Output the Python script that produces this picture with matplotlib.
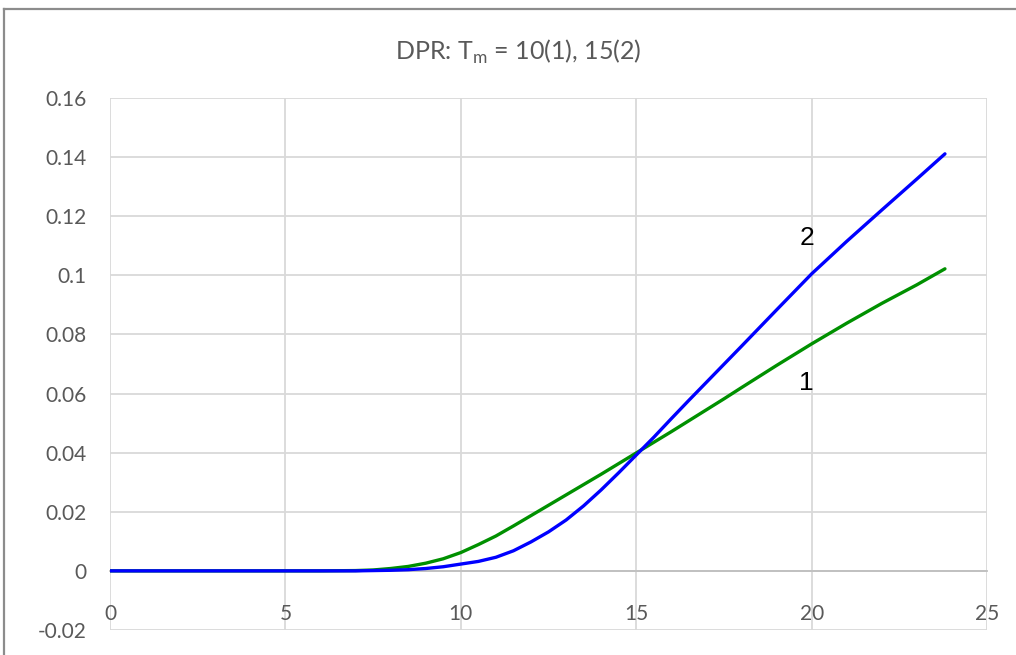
#!/usr/bin/env python3
"""DPR curves for two melting temperatures, Excel-like line chart."""

import matplotlib

matplotlib.use("Agg")
import matplotlib.pyplot as plt
from matplotlib.lines import Line2D

# time axis shared by both curves
t_vals = [0, 1, 2, 3, 4, 5, 6, 7, 7.5, 8, 8.5, 9, 9.5, 10, 10.5, 11, 11.5, 12,
          12.5, 13, 13.5, 14, 14.5, 15, 15.5, 16, 16.5, 17, 17.5, 18, 19, 20, 21,
          22, 23, 23.8]

# curve 1: T_m = 10
dpr_tm10 = [0, 0, 0, 0, 0, 0, 0, 0.0001, 0.0003, 0.0008, 0.0015, 0.0026, 0.0041, 0.0062,
            0.0089, 0.0118, 0.0152, 0.0187, 0.0222, 0.0257, 0.0292, 0.0327, 0.0363, 0.0399,
            0.0435, 0.0471, 0.0508, 0.0545, 0.0582, 0.0620, 0.0695, 0.0768, 0.0838, 0.0905,
            0.0968, 0.1022]

# curve 2: T_m = 15
dpr_tm15 = [0, 0, 0, 0, 0, 0, 0, 0.0, 0.0001, 0.0002, 0.0004, 0.0008, 0.0014, 0.0023,
            0.0032, 0.0046, 0.0068, 0.0098, 0.0132, 0.0172, 0.0220, 0.0274, 0.0332, 0.0392,
            0.0452, 0.0515, 0.0577, 0.0638, 0.0699, 0.0760, 0.0883, 0.1005, 0.1115, 0.1221,
            0.1326, 0.1411]

y_ticks = [-0.02, 0, 0.02, 0.04, 0.06, 0.08, 0.1, 0.12, 0.14, 0.16]
y_labels = ["-0.02", "0", "0.02", "0.04", "0.06", "0.08", "0.1", "0.12", "0.14", "0.16"]
x_ticks = [0, 5, 10, 15, 20, 25]

plt.rcParams["font.family"] = ["Lato", "DejaVu Sans"]
plt.rcParams["mathtext.fontset"] = "custom"
plt.rcParams["mathtext.rm"] = "Lato"

TEXT_GREY = "#595959"
GRID_GREY = "#D9D9D9"

fig = plt.figure(figsize=(10.16, 6.55), dpi=100)
ax = fig.add_axes([0.1083, 0.0382, 0.8632, 0.8122])

ax.plot(t_vals, dpr_tm10, color="#009000", lw=2.4, solid_capstyle="round",
        solid_joinstyle="round", zorder=3)
ax.plot(t_vals, dpr_tm15, color="#0000FF", lw=2.4, solid_capstyle="round",
        solid_joinstyle="round", zorder=4)

ax.set_xlim(0, 25)
ax.set_ylim(-0.02, 0.16)
ax.set_xticks(x_ticks)
ax.set_yticks(y_ticks)
ax.set_yticklabels(y_labels)
ax.grid(True, color=GRID_GREY, lw=1.3, zorder=0)
ax.set_axisbelow(True)

for side in ("left", "right", "top"):
    ax.spines[side].set_visible(False)
ax.spines["bottom"].set_position(("data", 0))
ax.spines["bottom"].set_color("#BFBFBF")
ax.spines["bottom"].set_linewidth(1.3)

ax.tick_params(axis="x", length=0, pad=24, labelsize=15, colors=TEXT_GREY)
ax.tick_params(axis="y", length=0, pad=17, labelsize=15, colors=TEXT_GREY)

# curve numbers next to the lines
ax.text(19.86, 0.1125, "2", fontsize=19, family="Liberation Sans", color="black",
        ha="center", va="center")
ax.text(19.86, 0.0634, "1", fontsize=19, family="Liberation Sans", color="black",
        ha="center", va="center")

fig.text(0.51, 0.921, r"DPR: T$_\mathregular{m}$ = 10(1), 15(2)", fontsize=18,
         color=TEXT_GREY, ha="center", va="center")

# chart-area frame (left and top edges fall inside the image)
frame_x = 3.5 / 1016
frame_y = 1 - 9 / 655
fig.add_artist(Line2D([frame_x, frame_x], [0, frame_y], transform=fig.transFigure,
                      color="#8C8C8C", lw=1.6))
fig.add_artist(Line2D([frame_x, 1], [frame_y, frame_y], transform=fig.transFigure,
                      color="#8C8C8C", lw=1.6))

fig.savefig("out.png", dpi=100)
